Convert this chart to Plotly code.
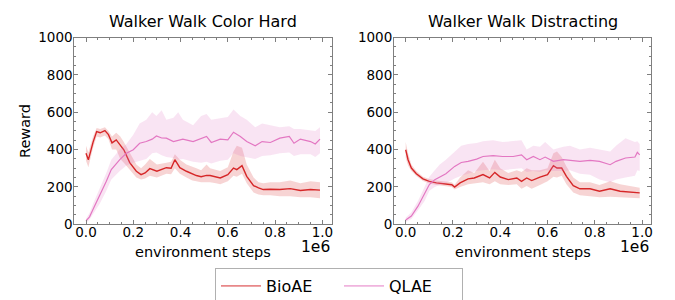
import plotly.graph_objects as go

# ---------------- data ----------------
titles = ["Walker Walk Color Hard", "Walker Walk Distracting"]
series_names = ["BioAE", "QLAE"]

# Left panel: Walker Walk Color Hard
ch_bio_x = [0, 0.01, 0.03, 0.045, 0.06, 0.08, 0.095, 0.11, 0.128, 0.145, 0.16, 0.185, 0.213, 0.233,
            0.25, 0.27, 0.30, 0.34, 0.36, 0.376, 0.397, 0.425, 0.45, 0.467, 0.487, 0.51, 0.525, 0.55,
            0.568, 0.6, 0.624, 0.638, 0.66, 0.68, 0.709, 0.73, 0.75, 0.78, 0.82, 0.864, 0.907, 0.95, 0.99]
ch_bio_mean = [380, 345, 440, 496, 490, 502, 480, 436, 452, 420, 399, 330, 284, 266,
               275, 298, 284, 303, 300, 346, 303, 284, 270, 261, 255, 262, 261, 255,
               248, 266, 301, 293, 314, 257, 207, 195, 186, 188, 186, 191, 181, 186, 183]
ch_bio_hi = [420, 385, 470, 515, 510, 520, 500, 470, 490, 470, 440, 380, 320, 300,
             320, 350, 320, 330, 335, 375, 345, 320, 310, 300, 290, 320, 300, 290,
             285, 305, 390, 420, 410, 320, 250, 225, 220, 225, 225, 235, 220, 230, 225]
ch_bio_lo = [340, 305, 410, 470, 465, 475, 455, 400, 400, 350, 330, 290, 250, 240,
             245, 260, 250, 270, 268, 300, 270, 250, 235, 230, 225, 225, 225, 220,
             215, 230, 260, 255, 270, 220, 170, 160, 155, 155, 150, 150, 145, 145, 140]

ch_qla_x = [0, 0.015, 0.03, 0.058, 0.086, 0.107, 0.143, 0.171, 0.20, 0.227, 0.255, 0.28, 0.298,
            0.32, 0.34, 0.37, 0.39, 0.41, 0.453, 0.487, 0.51, 0.53, 0.568, 0.6, 0.624, 0.653,
            0.68, 0.716, 0.745, 0.78, 0.82, 0.86, 0.88, 0.907, 0.95, 0.97, 0.99]
ch_qla_mean = [18, 40, 80, 151, 230, 293, 346, 381, 399, 434, 443, 456, 473,
               462, 461, 443, 450, 456, 443, 461, 470, 438, 456, 452, 493, 470,
               443, 420, 443, 438, 461, 470, 434, 456, 443, 430, 456]
ch_qla_hi = [30, 60, 110, 190, 275, 345, 400, 430, 480, 540, 560, 600, 580,
             610, 560, 570, 600, 560, 530, 580, 590, 560, 570, 575, 615, 580,
             560, 520, 540, 530, 520, 525, 510, 510, 505, 500, 520]
ch_qla_lo = [8, 25, 55, 110, 180, 240, 285, 315, 330, 340, 350, 380, 385,
             370, 360, 355, 345, 350, 335, 330, 335, 325, 340, 345, 380, 365,
             360, 350, 365, 370, 380, 385, 365, 375, 375, 360, 380]

# Right panel: Walker Walk Distracting
di_bio_x = [0, 0.01, 0.024, 0.045, 0.073, 0.10, 0.13, 0.17, 0.195, 0.207, 0.23, 0.264, 0.29, 0.327,
            0.355, 0.377, 0.4, 0.434, 0.47, 0.49, 0.512, 0.533, 0.568, 0.6, 0.625, 0.64, 0.66,
            0.68, 0.709, 0.737, 0.78, 0.82, 0.865, 0.907, 0.95, 0.99]
di_bio_mean = [399, 346, 301, 271, 243, 230, 222, 216, 212, 199, 222, 243, 248, 266,
               248, 278, 253, 239, 248, 230, 248, 234, 253, 266, 314, 301, 301,
               257, 207, 190, 190, 177, 190, 177, 172, 168]
di_bio_hi = [440, 380, 320, 285, 255, 242, 234, 228, 225, 212, 250, 290, 275, 335,
             285, 345, 300, 275, 290, 280, 300, 290, 290, 300, 380, 390, 360,
             310, 250, 225, 225, 210, 230, 215, 205, 195]
di_bio_lo = [355, 315, 285, 258, 232, 218, 210, 204, 200, 186, 200, 215, 220, 225,
             215, 230, 215, 210, 215, 190, 205, 190, 210, 230, 255, 250, 260,
             215, 170, 155, 150, 145, 148, 145, 140, 140]

di_qla_x = [0, 0.024, 0.052, 0.08, 0.10, 0.123, 0.144, 0.17, 0.207, 0.235, 0.264, 0.30, 0.327,
            0.37, 0.41, 0.455, 0.49, 0.512, 0.54, 0.568, 0.59, 0.625, 0.667, 0.695, 0.737,
            0.78, 0.82, 0.865, 0.89, 0.93, 0.97, 0.98, 0.99]
di_qla_mean = [23, 44, 97, 160, 213, 239, 253, 271, 310, 331, 337, 349, 363,
               368, 363, 363, 372, 346, 363, 346, 360, 337, 346, 342, 337,
               342, 337, 319, 337, 355, 360, 385, 372]
di_qla_hi = [35, 65, 125, 200, 255, 290, 320, 345, 390, 420, 430, 435, 445,
             450, 440, 445, 450, 400, 420, 415, 440, 400, 415, 420, 400,
             410, 400, 390, 420, 460, 440, 445, 430]
di_qla_lo = [12, 28, 75, 125, 180, 200, 210, 220, 245, 260, 270, 285, 290,
             295, 290, 295, 300, 280, 285, 280, 290, 285, 285, 290, 270,
             265, 240, 225, 240, 250, 260, 290, 285]

x_ticks = [0.0, 0.2, 0.4, 0.6, 0.8, 1.0]
x_tick_text = ["0.0", "0.2", "0.4", "0.6", "0.8", "1.0"]
y_ticks = [0, 200, 400, 600, 800, 1000]
y_tick_text = ["0", "200", "400", "600", "800", "1000"]

# ---------------- style ----------------
W, H = 675, 300
OFF = 8  # page body margin of the html page
FONT = "DejaVu Sans"
TXT = "#000000"
colors = {"BioAE": (214, 39, 40), "QLAE": (227, 119, 194)}
line_w = {"BioAE": 1.4, "QLAE": 1.2}

def rgba(c, a):
    return f"rgba({c[0]},{c[1]},{c[2]},{a})"

def px_x(p):
    return (p - OFF) / W

def px_y(p):
    return 1 - (p - OFF) / H

fig = go.Figure()

panels = [
    ("x", "y", [("BioAE", ch_bio_x, ch_bio_mean, ch_bio_hi, ch_bio_lo),
                ("QLAE", ch_qla_x, ch_qla_mean, ch_qla_hi, ch_qla_lo)]),
    ("x2", "y2", [("BioAE", di_bio_x, di_bio_mean, di_bio_hi, di_bio_lo),
                  ("QLAE", di_qla_x, di_qla_mean, di_qla_hi, di_qla_lo)]),
]

for xa, ya, series in panels:
    for name, xs, m, hi, lo in series:
        c = colors[name]
        fig.add_trace(go.Scatter(x=xs, y=hi, xaxis=xa, yaxis=ya, mode="lines",
                                 line=dict(width=0, color=rgba(c, 0)), showlegend=False,
                                 hoverinfo="skip"))
        fig.add_trace(go.Scatter(x=xs, y=lo, xaxis=xa, yaxis=ya, mode="lines",
                                 line=dict(width=0, color=rgba(c, 0)), fill="tonexty",
                                 fillcolor=rgba(c, 0.2), showlegend=False, hoverinfo="skip"))
        fig.add_trace(go.Scatter(x=xs, y=m, xaxis=xa, yaxis=ya, mode="lines",
                                 line=dict(width=line_w[name], color=rgba(c, 1)),
                                 name=name, showlegend=False))

# legend-only entries (lighter, as in reference legend)
for name in series_names:
    fig.add_trace(go.Scatter(x=[None], y=[None], mode="lines", name=name,
                             line=dict(width=1.8, color=rgba(colors[name], 0.55)),
                             showlegend=True))

# axes geometry (page pixels)
ax_top, ax_bot = 37.5, 224.3
left_px = (74.3, 331.7)
right_px = (394.0, 651.4)
ydom = [px_y(ax_bot), px_y(ax_top)]
xrange_ = [-0.0495, 1.0395]

axis_common = dict(showline=True, linecolor="#7f7f7f", linewidth=1, mirror="allticks",
                   ticks="inside", ticklen=4, tickwidth=1, tickcolor="#7f7f7f",
                   showgrid=False, zeroline=False, automargin=False,
                   tickfont=dict(family=FONT, size=13.5, color=TXT))

for i, (px0, px1) in enumerate([left_px, right_px]):
    sx = "" if i == 0 else str(i + 1)
    fig.update_layout(**{
        f"xaxis{sx}": dict(domain=[px_x(px0), px_x(px1)], range=xrange_, anchor=f"y{sx}",
                           tickvals=x_ticks, ticktext=x_tick_text, ticklabelstandoff=-5,
                           minor=dict(ticks="inside", ticklen=2, dtick=0.05, tick0=0,
                                      tickcolor="#7f7f7f", showgrid=False),
                           **axis_common),
        f"yaxis{sx}": dict(domain=ydom, range=[0, 1000], anchor=f"x{sx}",
                           tickvals=y_ticks, ticktext=y_tick_text, ticklabelstandoff=-2,
                           minor=dict(ticks="inside", ticklen=2, dtick=50, tick0=0,
                                      tickcolor="#7f7f7f", showgrid=False),
                           **axis_common),
    })

annotations = []
for i, (px0, px1) in enumerate([left_px, right_px]):
    cx = px_x((px0 + px1) / 2)
    annotations.append(dict(text=titles[i], x=cx, y=px_y(21), xref="paper", yref="paper",
                            showarrow=False, xanchor="center", yanchor="middle",
                            font=dict(family=FONT, size=16, color=TXT)))
    annotations.append(dict(text="environment steps", x=cx, y=px_y(252), xref="paper",
                            yref="paper", showarrow=False, xanchor="center", yanchor="middle",
                            font=dict(family=FONT, size=14.5, color=TXT)))
    annotations.append(dict(text="1e6", x=px_x(px1), y=px_y(246.5), xref="paper", yref="paper",
                            showarrow=False, xanchor="right", yanchor="middle",
                            font=dict(family=FONT, size=15.5, color=TXT)))
annotations.append(dict(text="Reward", x=px_x(25), y=px_y(131), xref="paper", yref="paper",
                        showarrow=False, xanchor="center", yanchor="middle", textangle=-90,
                        font=dict(family=FONT, size=14.5, color=TXT)))

fig.update_layout(
    width=W, height=H,
    margin=dict(l=0, r=0, t=0, b=0),
    paper_bgcolor="white", plot_bgcolor="white",
    font=dict(family=FONT, size=13, color=TXT),
    annotations=annotations,
    showlegend=True,
    legend=dict(orientation="h", x=px_x(339), y=px_y(268), xanchor="center", yanchor="top",
                traceorder="normal",
                bordercolor="#b0b0b0", borderwidth=1, bgcolor="white",
                font=dict(family=FONT, size=16, color=TXT),
                itemwidth=40, entrywidth=68),
)

fig.write_html("out.html")
